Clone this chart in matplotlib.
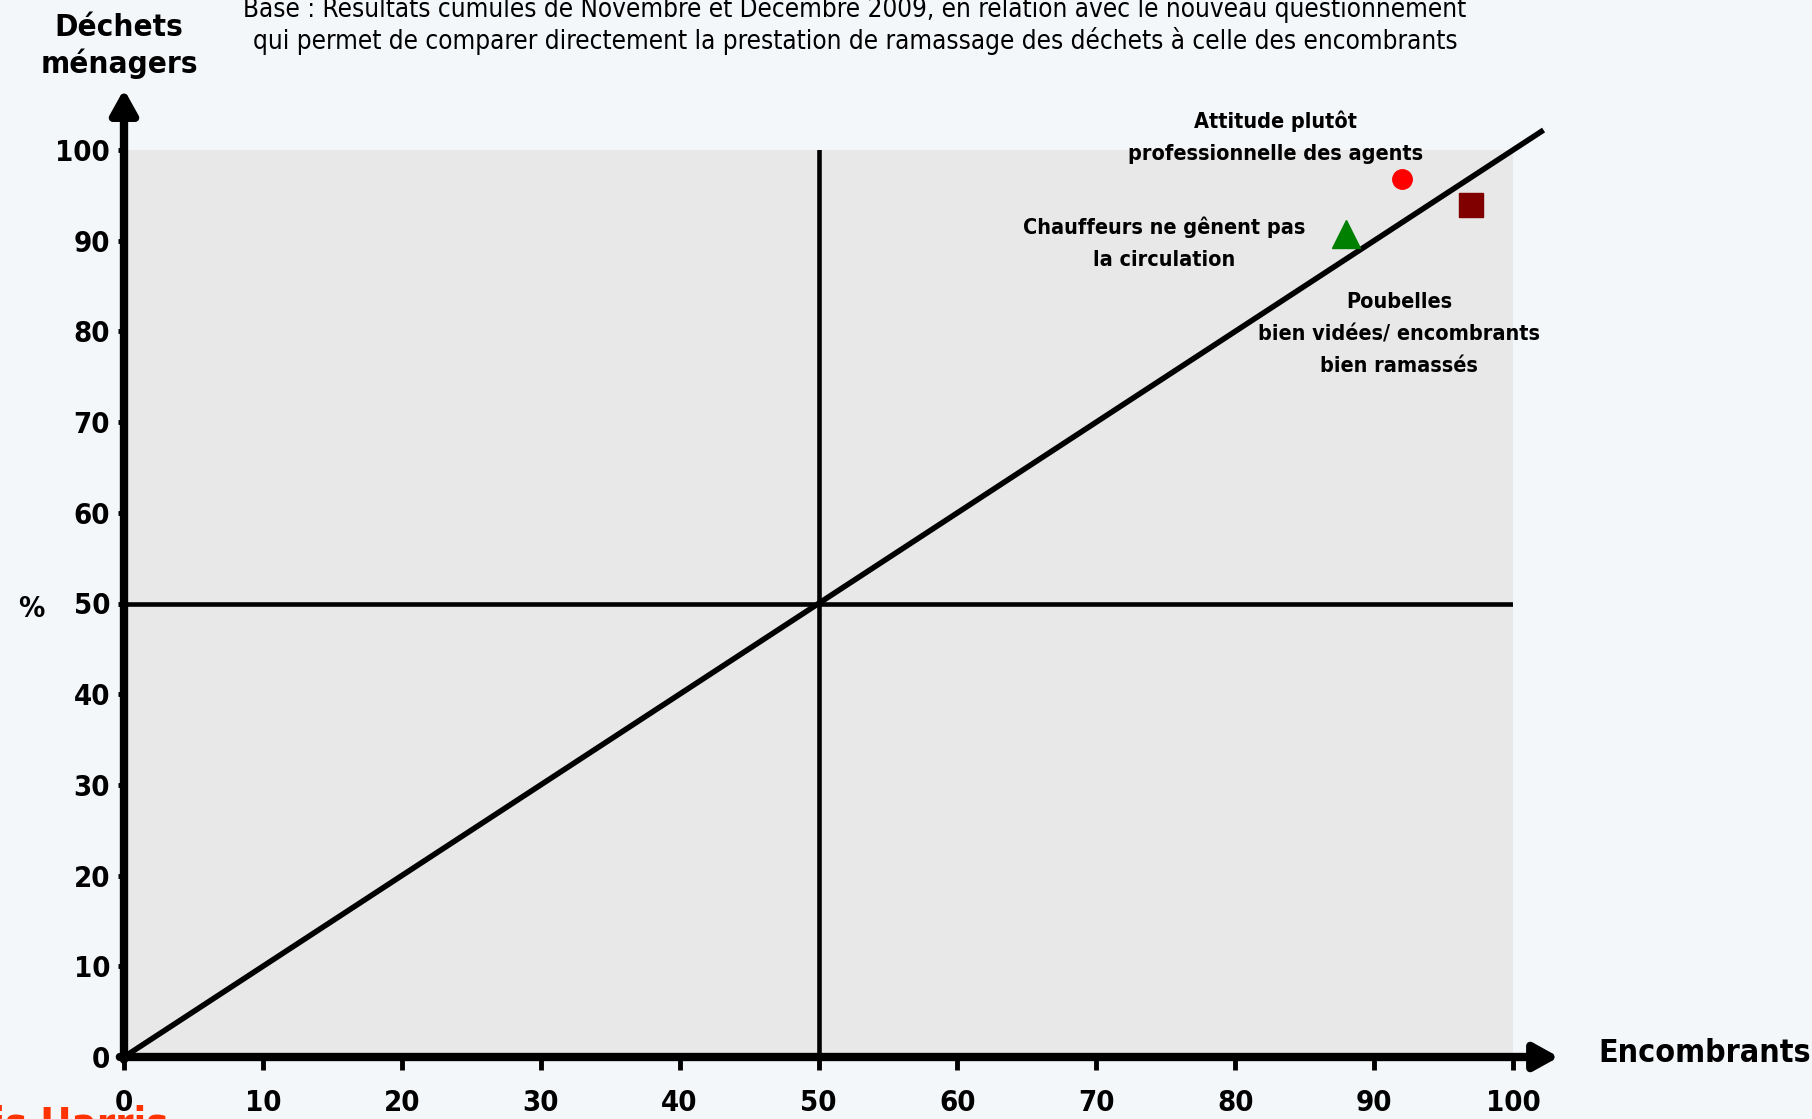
import matplotlib.pyplot as plt
import numpy as np

# Data
labels = ["Attitude plutôt\nprofessionnelle des agents",
          "Chauffeurs ne gênent pas\nla circulation",
          "Poubelles\nbien vidées/ encombrants\nbien ramassés"]
encombrants = [92, 88, 97]      # x
menagers = [96.8, 90.7, 93.9]   # y
markers = ["o", "^", "s"]
colors = ["#FF0000", "#008000", "#800000"]
sizes = [14, 20, 17]
label_pos = [(82.9, 101.4), (74.9, 89.7), (91.8, 79.7)]
ticks = list(range(0, 101, 10))

title = ("Base : Résultats cumulés de Novembre et Décembre 2009, en relation avec le nouveau questionnement\n"
         "qui permet de comparer directement la prestation de ramassage des déchets à celle des encombrants")

plt.rcParams["font.family"] = "DejaVu Sans"
plt.rcParams["font.stretch"] = "condensed"

W, H = 1812, 1119
fig = plt.figure(figsize=(W / 100, H / 100), dpi=100, facecolor="#F4F7FA")
ax = fig.add_axes([124 / W, 1 - 1057 / H, (1513 - 124) / W, (1057 - 150) / H])
ax.set_facecolor("#E8E8E8")
ax.set_xlim(0, 100)
ax.set_ylim(0, 100)
for s in ax.spines.values():
    s.set_visible(False)

# reference lines
ax.plot([0, 102.2], [0, 102.2], color="black", lw=4, clip_on=False, solid_capstyle="butt")
ax.plot([50, 50], [0, 100], color="black", lw=3.3)
ax.plot([0, 100], [50, 50], color="black", lw=3.3)

# axes with arrows
arrow = dict(arrowstyle="-|>,head_length=0.9,head_width=0.5", lw=6, color="black",
             shrinkA=0, shrinkB=0, mutation_scale=16)
ax.annotate("", xy=(0, 106.7), xytext=(0, -0.3), annotation_clip=False, arrowprops=arrow)
ax.annotate("", xy=(103.3, 0), xytext=(-0.3, 0), annotation_clip=False, arrowprops=arrow)

# points and labels
for xv, yv, m, c, ms in zip(encombrants, menagers, markers, colors, sizes):
    ax.plot(xv, yv, marker=m, color=c, markersize=ms, linestyle="none", clip_on=False)
for lab, (lx, ly) in zip(labels, label_pos):
    ax.text(lx, ly, lab, ha="center", va="center", fontsize=15.5, fontweight="bold",
            linespacing=1.75, clip_on=False)

ax.set_xticks(ticks)
ax.set_yticks(ticks)
ax.set_xticklabels([str(t) for t in ticks], fontsize=21, fontweight="bold")
ax.set_yticklabels([str(t) for t in ticks], fontsize=21, fontweight="bold")
ax.tick_params(axis="x", direction="out", length=9, width=3.5, pad=14, color="black")
ax.tick_params(axis="y", direction="out", length=4, width=3.5, pad=6, color="black")

# texts
fig.text(855 / W, 1 - 25 / H, title, ha="center", va="center", fontsize=18.7,
         linespacing=1.2)
fig.text(119 / W, 1 - 46 / H, "Déchets\nménagers", ha="center", va="center",
         fontsize=22.5, fontweight="bold", linespacing=1.25)
fig.text(31 / W, 1 - 609 / H, "%", ha="center", va="center", fontsize=21, fontweight="bold")
fig.text(1598 / W, 1 - 1054 / H, "Encombrants", ha="left", va="center",
         fontsize=23, fontweight="bold")
fig.text(168 / W, 1 - 1104 / H, "Louis Harris", ha="right", va="top",
         fontsize=30, fontweight="bold", color="#FF3300", zorder=0)

fig.savefig("out.png", dpi=100, facecolor=fig.get_facecolor())
